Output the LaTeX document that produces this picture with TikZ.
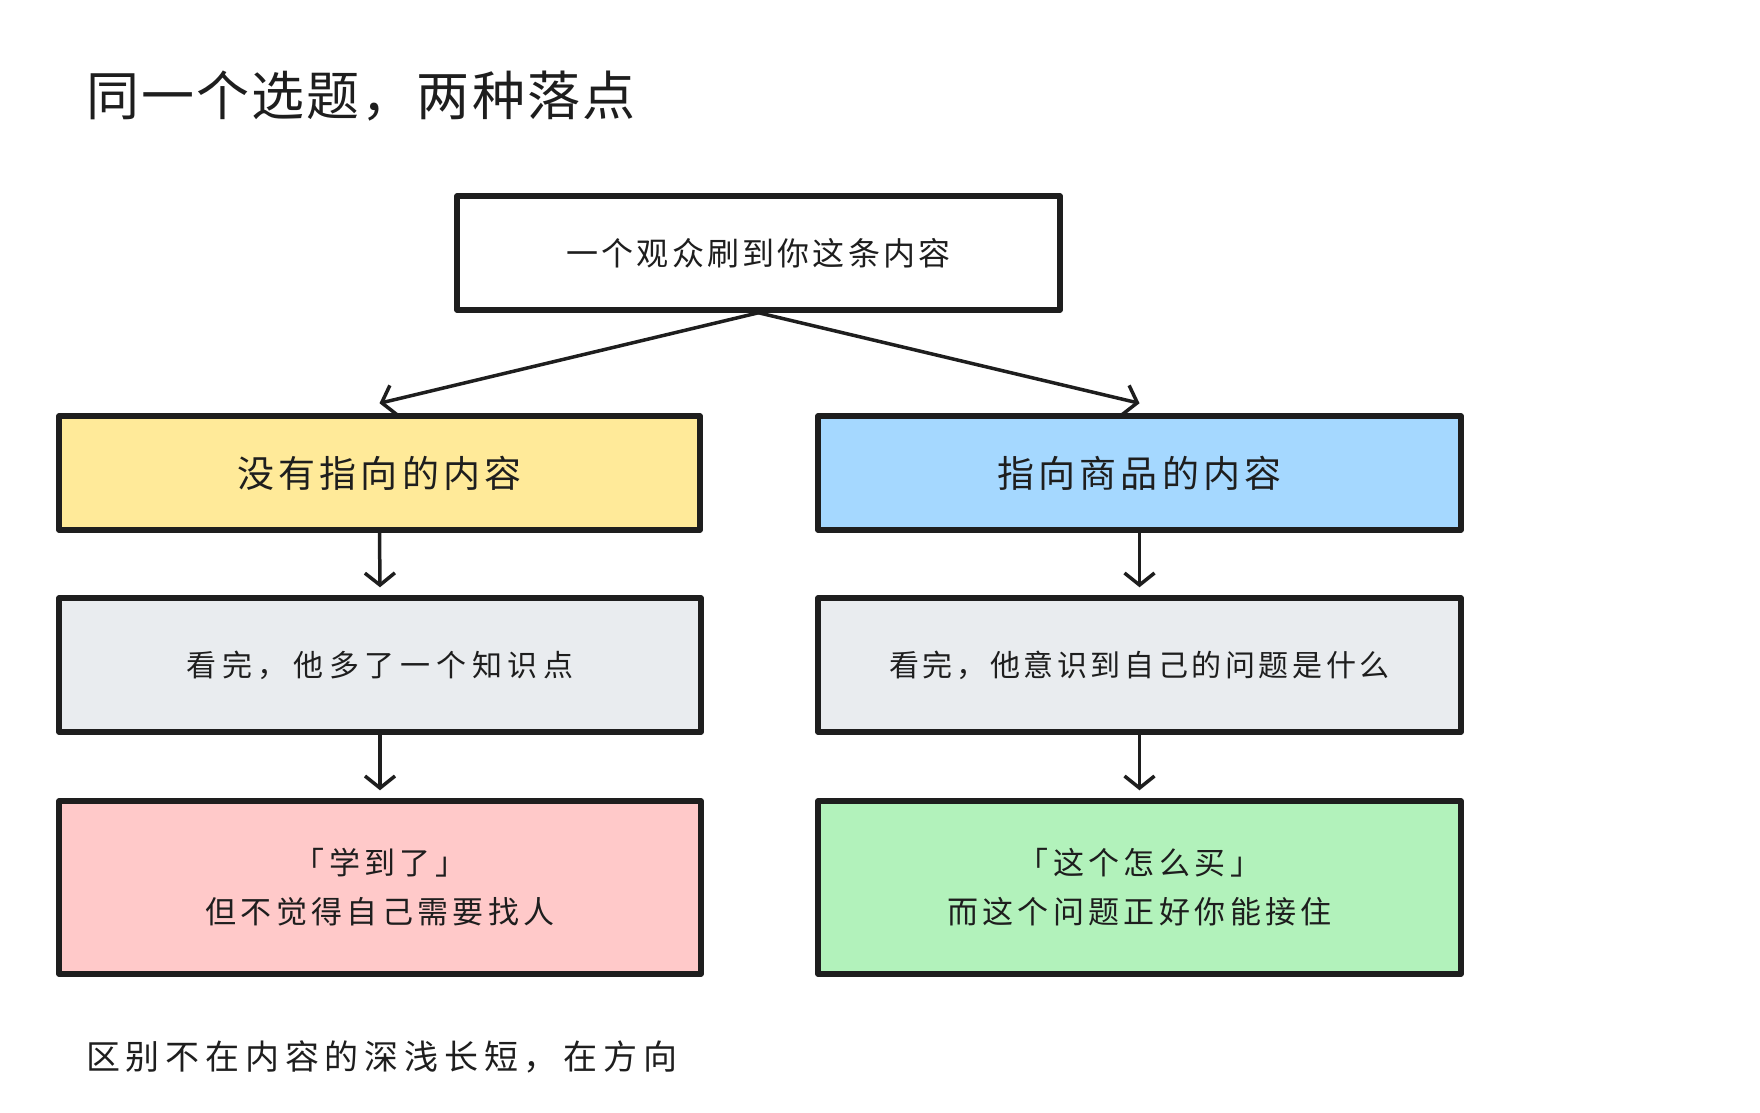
\documentclass[tikz,border=0pt]{standalone}
\usepackage{fontspec}
\setmainfont{Noto Sans CJK SC}
\usetikzlibrary{arrows.meta}
\definecolor{ink}{HTML}{1E1E1E}
\definecolor{fyellow}{HTML}{FFEA99}
\definecolor{fblue}{HTML}{A5D8FF}
\definecolor{fgray}{HTML}{E9ECEF}
\definecolor{fpink}{HTML}{FFC9C9}
\definecolor{fgreen}{HTML}{B2F2BB}
\newcommand\fz[3]{\fontsize{#1}{#2}\selectfont\addfontfeatures{LetterSpace=#3}}
\begin{document}
\begin{tikzpicture}[x=1pt,y=-1pt,
  box/.style={draw=ink, line width=5.5pt, rectangle, inner sep=0pt, align=center, text=ink, line join=round},
  conn/.style={draw=ink, line width=3.5pt, line cap=round, -{Straight Barb[length=12pt,width=30pt,line width=3.5pt]}},
  plain/.style={text=ink, inner sep=0pt, anchor=west}
]
\useasboundingbox (0,0) rectangle (1760,1112);

\node[plain, font=\fz{53}{60}{4}] (title) at (86,96) {同一个选题，两种落点};

\node[box, fill=white, minimum width=603, minimum height=114, font=\fz{32}{36}{10}] (top) at (758.5,253) {一个观众刷到你这条内容};

\node[box, fill=fyellow, minimum width=641, minimum height=114, font=\fz{37}{42}{11}] (yl) at (379.5,473) {没有指向的内容};
\node[box, fill=fblue, minimum width=643, minimum height=114, font=\fz{37}{42}{11}] (bl) at (1139.5,473) {指向商品的内容};

\node[box, fill=fgray, minimum width=642, minimum height=134, font=\fz{30}{34}{19}] (gl) at (380,665) {看完，他多了一个知识点};
\node[box, fill=fgray, minimum width=643, minimum height=134, font=\fz{30}{34}{12}] (gr) at (1139.5,665) {看完，他意识到自己的问题是什么};

\node[box, fill=fpink, minimum width=642, minimum height=173, font=\fz{31}{49}{14}] (pk) at (380,887.5) {「学到了」\\ 但不觉得自己需要找人};
\node[box, fill=fgreen, minimum width=643, minimum height=173, font=\fz{31}{49}{14}] (gn) at (1139.5,887.5) {「这个怎么买」\\ 而这个问题正好你能接住};

\node[plain, font=\fz{34}{38}{17}] (note) at (86,1057) {区别不在内容的深浅长短，在方向};

\coordinate (yin) at ([yshift=10pt]yl.north);
\coordinate (bin) at ([yshift=10pt]bl.north);
\coordinate (glin) at ([yshift=8pt]gl.north);
\coordinate (grin) at ([yshift=8pt]gr.north);
\coordinate (pkin) at ([yshift=8pt]pk.north);
\coordinate (gnin) at ([yshift=8pt]gn.north);

\draw[conn] (top.south) -- (yin);
\draw[conn] (top.south) -- (bin);
\draw[conn] (yl.south) -- (glin);
\draw[conn] (bl.south) -- (grin);
\draw[conn] (gl.south) -- (pkin);
\draw[conn] (gr.south) -- (gnin);
\end{tikzpicture}
\end{document}
